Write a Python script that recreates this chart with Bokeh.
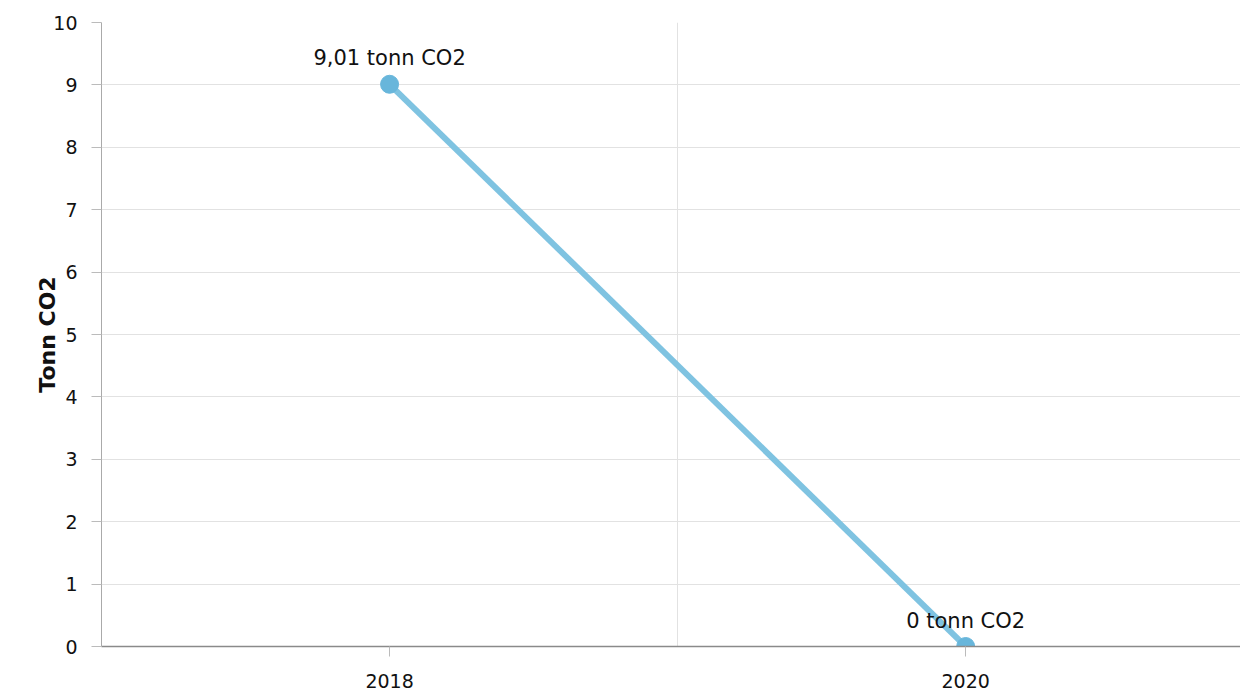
from bokeh.plotting import figure
from bokeh.models import Range1d, FixedTicker, ColumnDataSource
from bokeh.core.properties import value
from bokeh.embed import file_html
from bokeh.resources import INLINE

years = ["2018", "2020"]
values = [9.01, 0]
labels = ["9,01 tonn CO2", "0 tonn CO2"]
y_ticks = [0, 1, 2, 3, 4, 5, 6, 7, 8, 9, 10]

FONT = "DejaVu Sans"
xpos = [i + 0.5 for i in range(len(years))]

p = figure(width=1240, height=690, output_backend="svg", toolbar_location=None,
           x_range=Range1d(0, 1.977), y_range=Range1d(0, 10),
           min_border_left=101, min_border_right=0, min_border_top=22, min_border_bottom=44)
p.outline_line_color = None
p.background_fill_color = "white"
p.border_fill_color = "white"

src = ColumnDataSource(dict(x=xpos, y=values, label=labels))
p.line("x", "y", source=src, line_color="#7fc3e1", line_width=6)
p.scatter("x", "y", source=src, size=18, fill_color="#68b6db", line_color="#68b6db")
p.text("x", "y", text="label", source=src, y_offset=-14, text_align="center",
       text_baseline="bottom", text_font=value(FONT), text_font_size="21px", text_color="#111111")

# x axis
p.xaxis.ticker = FixedTicker(ticks=xpos)
p.xaxis.major_label_overrides = {x: y for x, y in zip(xpos, years)}
p.xaxis.minor_tick_line_color = None
p.xaxis.major_tick_in = 0
p.xaxis.major_tick_out = 10
p.xaxis.axis_line_color = "#8a8a8a"
p.xaxis.axis_line_width = 1.5
p.xaxis.major_tick_line_color = "#bbbbbb"
p.xaxis.major_label_text_font = FONT
p.xaxis.major_label_text_font_size = "19px"
p.xaxis.major_label_text_color = "#111111"
p.xaxis.major_label_standoff = 17

p.xgrid.ticker = FixedTicker(ticks=[1])
p.xgrid.grid_line_color = "#e2e2e2"

# y axis
p.yaxis.ticker = FixedTicker(ticks=y_ticks)
p.yaxis.minor_tick_line_color = None
p.yaxis.major_tick_in = 0
p.yaxis.major_tick_out = 10
p.yaxis.axis_line_color = "#aaaaaa"
p.yaxis.major_tick_line_color = "#bbbbbb"
p.yaxis.major_label_text_font = FONT
p.yaxis.major_label_text_font_size = "19px"
p.yaxis.major_label_text_color = "#111111"
p.yaxis.major_label_standoff = 14
p.yaxis.axis_label = "Tonn CO2"
p.yaxis.axis_label_text_font = FONT
p.yaxis.axis_label_text_font_size = "22px"
p.yaxis.axis_label_text_font_style = "bold"
p.yaxis.axis_label_text_color = "#111111"
p.yaxis.axis_label_standoff = -10
p.ygrid.grid_line_color = "#e2e2e2"

open("out.html", "w").write(file_html(p, INLINE))
